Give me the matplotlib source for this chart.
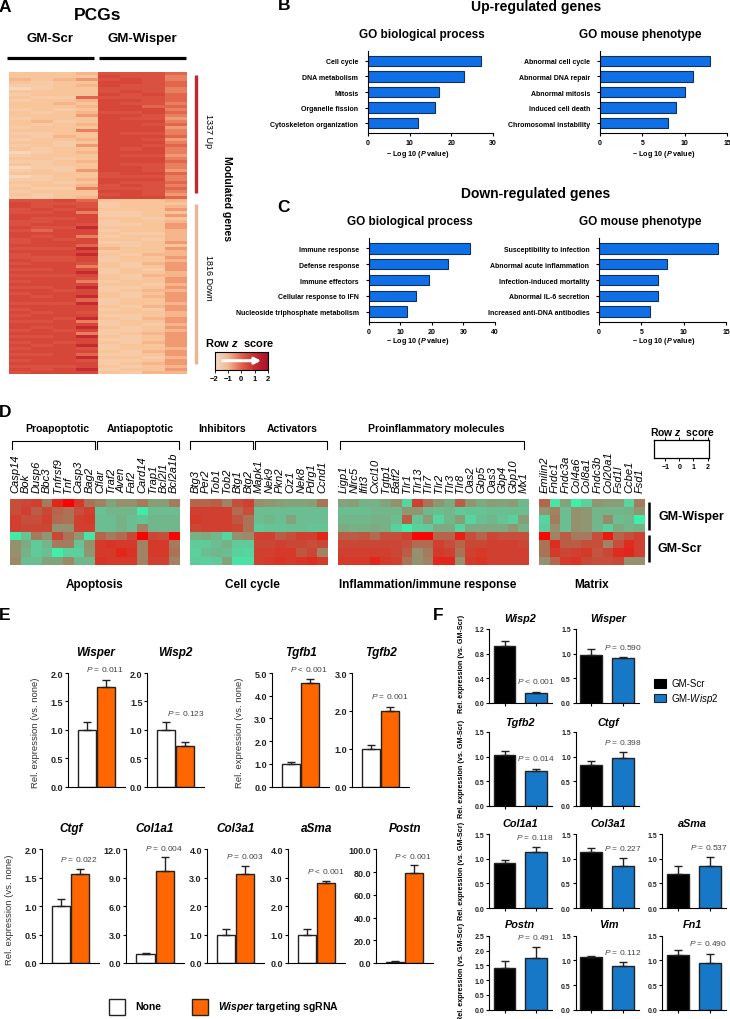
import numpy as np
import matplotlib
matplotlib.use("Agg")
import matplotlib.pyplot as plt
from matplotlib.colors import LinearSegmentedColormap
from matplotlib.patches import Rectangle

plt.rcParams['font.family'] = ['Liberation Sans', 'DejaVu Sans']
plt.rcParams['mathtext.fontset'] = 'custom'
plt.rcParams['mathtext.rm'] = 'Liberation Sans'
plt.rcParams['mathtext.it'] = 'Liberation Sans:italic'
plt.rcParams['mathtext.bf'] = 'Liberation Sans:bold'
plt.rcParams['mathtext.bfit'] = 'Liberation Sans:italic:bold'
plt.rcParams['mathtext.default'] = 'regular'

W, H = 730, 1020

# --- panel A, one string per row, digit 0 (pale) to 9 (dark) ---
pcg_rows = [
    "2223 7776", "2222 8775", "3234 7875", "2122 8876", "1123 8776", "0122 7775",
    "2222 7875", "1222 8786", "2116 7776", "1223 8876", "2232 8775", "2223 8866",
    "1212 8885", "2123 7786", "2224 8875", "1222 8774", "2312 8885", "2123 8876",
    "1222 8884", "2225 8885", "1122 8775", "2132 8886", "1223 8874", "2212 8885",
    "1214 8876", "2122 8785", "0123 8885", "1222 8774", "2212 8885", "1123 8886",
    "2122 8775", "0112 8875", "1214 8874", "2222 7886", "0122 7775", "1123 8885",
    "2212 8776", "1223 7875", "2115 7776", "1222 8875", "2122 7874", "1123 8886",
    "7786 2223", "8777 1222", "8787 1223", "7878 2224", "7785 1122", "8888 1124",
    "8778 2212", "7788 1223", "7887 1124", "8779 2224", "7688 1223", "8888 2113",
    "8785 1223", "7878 2213", "7888 1124", "8886 2122", "7779 3224", "8888 1223",
    "7889 2133", "7778 1224", "8778 1223", "7887 2134", "8885 2124", "7788 1214",
    "8889 1223", "7778 2133", "8887 2124", "7885 1224", "8888 2213", "7789 1124",
    "8878 1233", "7888 2124", "8789 2134", "8886 1224", "7779 1223", "8888 2134",
    "7888 1214", "8787 2223", "7888 1123", "8879 2134", "7785 1224", "8888 1213",
    "8789 2124", "7878 1123", "8885 1234", "7789 2124", "8888 1124", "7878 2134",
    "8789 1224", "7887 1223", "8888 2134", "7786 1124", "8889 2213", "7887 1124",
    "8888 1234", "7778 2123", "8789 1224", "7888 2133",
]

# --- panels B, C ---
up_bp_terms = ["Cell cycle", "DNA metabolism", "Mitosis", "Organelle fission", "Cytoskeleton organization"]
up_bp_vals = [27, 23, 17, 16, 12]
up_mp_terms = ["Abnormal cell cycle", "Abnormal DNA repair", "Abnormal mitosis", "Induced cell death", "Chromosomal instability"]
up_mp_vals = [13, 11, 10, 9, 8]
down_bp_terms = ["Immune response", "Defense response", "Immune effectors", "Cellular response to IFN", "Nucleoside triphosphate metabolism"]
down_bp_vals = [32, 25, 19, 15, 12]
down_mp_terms = ["Susceptibility to infection", "Abnormal acute inflammation", "Infection-induced mortality", "Abnormal IL-6 secretion", "Increased anti-DNA antibodies"]
down_mp_vals = [14, 8, 7, 7, 6]

# --- panel D ---
apoptosis_genes = ["Casp14", "Bok", "Dusp6", "Bbc3", "Tnfrsf9", "Tnf", "Casp3", "Bag2",
                   "Cflar", "Traf2", "Aven", "Faf2", "Card14", "Trap1", "Bcl2l1", "Bcl2a1b"]
apoptosis_z = [
    [.8, .9, 1.0, .2, 1.4, 2, 1.1, .3, .1, -.4, -.1, -.1, .2, -.3, -.3, .2],
    [.8, 1.0, .6, .9, .5, .3, .8, 1.0, -.9, -.7, -.7, -.7, -1.6, -.8, -.8, -.8],
    [1.0, .8, .8, 1.0, .4, .3, 1, 1.1, -.8, -.8, -.6, -.8, -.9, -.7, -.7, -.7],
    [1, .9, .9, .9, -.1, -.1, 1, 1, -.8, -.8, -.6, -.8, .1, -.7, -.7, -.7],
    [-1.6, -.9, .2, -.2, .9, .3, -.2, -1.5, .5, .2, .4, .9, 2, .9, .8, 1.9],
    [-.1, -.5, -1, -.7, .2, .2, -.9, -.1, 1.1, 1.2, 1.1, 1.1, .1, 1.1, 1.1, .2],
    [-.1, -.6, -1, -.8, -1.7, -1.1, -1.1, -.2, 1.1, 1.1, 1.4, 1.2, .1, 1.1, 1.1, .3],
    [0, -.8, -.8, -.4, -.4, 0, -.7, -.7, 1.2, 1.1, 1.1, 1.1, .1, 1, 1, .1],
]
cycle_genes = ["Btg3", "Per2", "Tob1", "Tob2", "Btg1", "Btg2", "Mapk1", "Nek9", "Pkn2", "Ciz1", "Nek8", "Pdrg1", "Ccnd1"]
cycle_z = [
    [.5, .5, .6, .1, .8, 1, -.1, -.2, -.3, -.4, -.4, -.3, .3],
    [1, 1, 1, 1, .4, .8, -.8, -.8, -.8, -.8, -.8, -.8, -.8],
    [1.1, 1, 1, 1, .7, .3, -.8, -.7, -.8, -.4, -.8, -.8, -.8],
    [.9, 1, 1, 1, .9, .3, -1, -.9, -.9, -.8, -.8, -.9, -.9],
    [-.6, -.5, -.7, -1.2, -.1, 0, 1, 1, .6, .8, 1, 1, 1.4],
    [-1, -1, -.8, -.6, -1, -1, .9, .9, 1, .9, .9, .8, .9],
    [-1.1, -.8, -.7, -.8, -1.1, -1.2, 1, 1, 1.1, 1.1, .7, .9, .1],
    [-1, -1.1, -1, -.4, -1.5, -1.4, 1, 1.1, 1.2, 1.1, 1.2, 1.3, 1.1],
]
inflam_genes = ["Ligp1", "Nlrc5", "Ifit3", "Cxcl10", "Tgtp1", "Batf2", "Tlr1", "Tlr13", "Tlr7",
                "Tlr2", "Tlr3", "Tlr8", "Oas2", "Gbp5", "Oas3", "Gbp4", "Gbp10", "Mx1"]
inflam_z = [
    [-.4, -.3, -.6, -.6, -.4, -.1, -1.2, 1, .3, -.2, -.5, .6, -.2, -.5, -.3, -.4, -.3, -.7],
    [-.8, -.8, -.8, -.7, -.7, -.7, -.2, -.2, -.7, -.8, -.7, -1, -.9, -.9, -.8, -.8, -.8, -.8],
    [-.7, -.7, -.7, -.6, -.6, -.8, .6, -.9, -.3, -1.2, -.7, -.3, -1.2, -.8, -.7, -.9, -1.1, -.3],
    [-.5, -.6, -.6, -.5, -.6, -1.1, -1.7, -1.1, -1, -.5, -.5, -1.2, -.5, -.5, -.5, -.5, -.2, -.6],
    [.6, .6, .7, .4, .8, .8, 1, 1.9, 1.9, .5, .5, 1.5, .8, .5, .9, .8, .8, .8],
    [.9, .9, .9, .9, .9, .9, .8, .4, .4, 1, .8, .5, .9, .9, 1, 1, 1, .9],
    [1, 1, 1, 1, 1, .9, .6, -.1, .2, 1.1, 1, .3, 1, 1.1, 1, 1, 1, 1],
    [1.1, 1.1, 1.1, 1.4, 1.1, 1, .3, -.1, .1, 1.4, 1.4, -.1, 1.1, 1.2, 1, 1, 1, 1],
]
matrix_genes = ["Emilin2", "Fndc1", "Fndc3a", "Col4a6", "Col8a1", "Fndc3b", "Col20a1", "Fsd1l", "Ccbe1", "Fsd1"]
matrix_z = [
    [.5, -1.5, -.4, -1.7, -1.1, -.2, -.3, -.3, -1.2, .2],
    [-.2, .1, -.8, -.1, -.2, -.7, -.7, -.7, -.6, -.2],
    [-1.2, .2, -.8, -.1, -.2, -.7, 0, -.8, -.7, -1.7],
    [-1, -.1, -.8, -.1, -.2, -.7, -1.1, -.5, -.7, -.6],
    [1.9, .1, .6, .2, .2, .8, 1.6, .5, .8, 1],
    [.3, 1.3, .6, .6, .8, .8, .1, .8, 1.3, 1],
    [.3, 1.1, .9, 1, 1.1, .7, .9, 1.3, 1.4, 1],
    [-.1, .5, 1.1, 1.2, .9, .8, .8, .9, -.1, -.1],
]

# --- panel E ---
e_genes = ["Wisper", "Wisp2", "Tgfb1", "Tgfb2", "Ctgf", "Col1a1", "Col3a1", "aSma", "Postn"]
e_none = [1, 1, 1, 1, 1, 1, 1, 1, 1]
e_none_err = [.13, .13, .1, .1, .13, .05, .19, .18, .5]
e_sg = [1.76, .71, 4.58, 2.0, 1.56, 9.7, 3.12, 2.8, 79]
e_sg_err = [.12, .07, .15, .1, .1, 1.5, .28, .08, 7]
e_ticks = [[0, .5, 1, 1.5, 2], [0, .5, 1, 1.5, 2], [0, 1, 2, 3, 4, 5], [0, 1, 2, 3], [0, .5, 1, 1.5, 2],
           [0, 3, 6, 9, 12], [0, 1, 2, 3, 4], [0, 1, 2, 3, 4], [0, 20, 40, 60, 80, 100]]
e_p = ["= 0.011", "= 0.123", "< 0.001", "= 0.001", "= 0.022", "= 0.004", "= 0.003", "< 0.001", "< 0.001"]

# --- panel F ---
f_genes = ["Wisp2", "Wisper", "Tgfb2", "Ctgf", "Col1a1", "Col3a1", "aSma", "Postn", "Vim", "Fn1"]
f_scr = [.92, .98, 1.04, .83, .92, 1.13, .68, 1.42, 1.06, 1.11]
f_scr_err = [.08, .12, .07, .09, .05, .08, .17, .21, .03, .1]
f_wisp = [.16, .91, .71, .97, 1.14, .85, .85, 1.75, .88, .95]
f_wisp_err = [.015, .02, .05, .12, .09, .17, .19, .37, .08, .18]
f_ticks = [[0, .4, .8, 1.2], [0, .5, 1, 1.5], [0, .5, 1, 1.5], [0, .5, 1, 1.5], [0, .5, 1, 1.5],
           [0, .5, 1, 1.5], [0, .5, 1, 1.5], [0, .5, 1, 1.5, 2, 2.5], [0, .5, 1, 1.5], [0, .5, 1, 1.5]]
f_p = ["< 0.001", "= 0.590", "= 0.014", "= 0.398", "= 0.118", "= 0.227", "= 0.537", "= 0.491", "= 0.112", "= 0.490"]

# pixel layouts
e_boxes = [(67.7, 125, 674, 787.7), (147.3, 204.3, 674, 787.7), (271.7, 329, 674, 787.7), (352.3, 409.3, 674, 787.7),
           (41.7, 99, 850.3, 964), (126.3, 184, 850.3, 964), (206.7, 264, 850.3, 964), (287.7, 345, 850.3, 964),
           (375.7, 433.3, 850.3, 964)]
e_title_pos = [(96, 653), (175, 653), (301, 653), (381, 653), (71, 829), (155, 829), (236, 829), (317, 829), (405.5, 829)]
e_p_pos = [(105, 670), (186, 714), (309, 670), (390, 697), (79, 860), (164, 849), (245, 857), (325.7, 872), (413, 856.7)]
f_boxes = [(489, 551.7, 630, 704), (575.7, 639, 630, 704), (489, 551.7, 733, 807), (575.7, 639, 733, 807),
           (489, 551.7, 835, 909), (575.7, 639, 835, 909), (662.3, 725.7, 835, 909),
           (489, 551.7, 936.7, 1010.7), (575.7, 639, 936.7, 1010.7), (662.3, 725.7, 936.7, 1010.7)]
f_title_pos = [(520, 619), (608.7, 619), (520, 722.7), (608.7, 722.7), (520, 823.7), (608.7, 823.7), (692.3, 823.7),
               (520, 925.3), (608.7, 925.3), (692.7, 925.3)]
f_p_pos = [(535.7, 682), (622.7, 647.3), (536, 758.3), (623, 742.7), (535, 837.7), (623, 848.7), (709.3, 847.3),
           (536.3, 937.7), (622.7, 953), (708.3, 943.7)]

fig = plt.figure(figsize=(W / 100, H / 100), dpi=100)


def px_axes(x0, x1, y0, y1):
    return fig.add_axes([x0 / W, 1 - y1 / H, (x1 - x0) / W, (y1 - y0) / H])


over = fig.add_axes([0, 0, 1, 1], zorder=10)
over.set_xlim(0, W)
over.set_ylim(H, 0)
over.axis('off')


def txt(x, y, s, size=8, weight='bold', **kw):
    kw.setdefault('ha', 'center')
    kw.setdefault('va', 'center')
    over.text(x, y, s, fontsize=size, fontweight=weight, **kw)


# panel letters
for letter, x, y in [("A", 5, 7), ("B", 284, 6), ("C", 284, 207), ("D", 5, 413), ("E", 5, 616), ("F", 438, 616)]:
    txt(x, y, letter, size=12.5)

# Panel A
pcg_cmap = LinearSegmentedColormap.from_list("pcg", [
    "#f9d6b8", "#f8cba8", "#f8c49a", "#f6b58a", "#f19a72",
    "#e9805f", "#e2654d", "#dc5240", "#d8483a", "#c42a2f"])
pcg = np.array([[int(c) for c in r.replace(" ", "")] for r in pcg_rows])
ax = px_axes(9.3, 186.7, 73, 375)
ax.imshow(pcg, cmap=pcg_cmap, vmin=0, vmax=9, aspect='auto', interpolation='nearest')
ax.axis('off')
txt(98, 16, "PCGs", size=12.5)
txt(50, 39, "GM-Scr", size=9.5)
txt(142.7, 39, "GM-Wisper", size=9.5)
over.plot([7, 94], [58.7, 58.7], color='k', lw=2.3, solid_capstyle='butt')
over.plot([99, 186], [58.7, 58.7], color='k', lw=2.3, solid_capstyle='butt')
over.plot([196, 196], [76, 194], color='#c1272d', lw=2.4, solid_capstyle='butt')
over.plot([196, 196], [205, 365], color='#f0b48c', lw=2.4, solid_capstyle='butt')
txt(208, 131, "1337 Up", size=6.5, weight='normal', rotation=270)
txt(208, 278, "1816 Down", size=6.5, weight='normal', rotation=270)
txt(226.7, 199, "Modulated genes", size=7.5, rotation=270)

cax = px_axes(214.5, 268, 353, 371)
cax.imshow(np.array([np.linspace(-2, 2, 100)]), cmap=LinearSegmentedColormap.from_list(
    "cb", ["#f3dcc8", "#f2b590", "#e2604a", "#c42a2f", "#a8102a"]), aspect='auto', extent=(-2, 2, 0, 1))
cax.set_xticks([-2, -1, 0, 1, 2])
cax.set_xticklabels(["−2", "−1", "0", "1", "2"], fontsize=5.5, fontweight='bold')
cax.set_yticks([])
cax.tick_params(length=2, width=.6, pad=1.5)
for s in cax.spines.values():
    s.set_linewidth(.8)
over.annotate("", xy=(264, 361.7), xytext=(220, 361.7),
              arrowprops=dict(arrowstyle='-|>', color='white', lw=2.2, mutation_scale=9))
txt(240, 343, r"Row $\mathbfit{z}$  score", size=8)


# Panels B, C
def go_bars(terms, vals, xmax, xstep, box, title, title_pos, label_pos):
    ax = px_axes(*box)
    ypos = np.arange(len(vals))
    ax.barh(ypos, vals, height=.67, color='#0f6fe6', edgecolor='#12305a', linewidth=.8)
    ax.set_ylim(len(vals) - 1 + .64, -.64)
    ax.set_xlim(0, xmax)
    ax.set_xticks(np.arange(0, xmax + 1, xstep))
    ax.set_yticks(ypos)
    ax.set_yticklabels(terms, fontsize=5, fontweight='bold')
    ax.tick_params(axis='x', labelsize=5, length=2, width=.8, pad=2)
    ax.tick_params(axis='y', length=2, width=.8, pad=5)
    for lab in ax.get_xticklabels():
        lab.set_fontweight('bold')
    ax.spines[['top', 'right']].set_visible(False)
    txt(title_pos[0], title_pos[1], title, size=8.5)
    txt(label_pos[0], label_pos[1], r"− Log 10 ($\mathbfit{P}$ value)", size=5.2)


txt(535.7, 7, "Up-regulated genes", size=10)
txt(535.7, 194, "Down-regulated genes", size=10)
go_bars(up_bp_terms, up_bp_vals, 30, 10, (368, 493, 52, 134), "GO biological process", (421.7, 35), (418, 154))
go_bars(up_mp_terms, up_mp_vals, 15, 5, (600, 727, 52, 134), "GO mouse phenotype", (640, 35), (664, 154))
go_bars(down_bp_terms, down_bp_vals, 40, 10, (368.7, 495, 239, 323), "GO biological process", (410, 222), (418, 342))
go_bars(down_mp_terms, down_mp_vals, 15, 5, (599, 726, 239, 323), "GO mouse phenotype", (640.7, 222), (664, 342))

# Panel D
d_cmap = LinearSegmentedColormap.from_list("d", ["#30ffb0", "#5fcb9b", "#9c8a68", "#d04030", "#ff0000"])
for genes, z, x0, x1 in [(apoptosis_genes, apoptosis_z, 10, 179.3), (cycle_genes, cycle_z, 190, 327.7),
                         (inflam_genes, inflam_z, 338.3, 529), (matrix_genes, matrix_z, 539.3, 645)]:
    ax = px_axes(x0, x1, 500, 565.7)
    ax.imshow(np.array(z), cmap=d_cmap, vmin=-2, vmax=2, aspect='auto', interpolation='nearest')
    ax.axis('off')
    step = (x1 - x0) / len(genes)
    for i, g in enumerate(genes):
        txt(x0 + step * (i + .5), 493.5, g, size=8, weight='normal', style='italic', rotation=90, va='bottom')

for a, b in [(12, 95), (97, 179), (190, 253), (255, 327), (340, 524)]:
    over.plot([a, a, b, b], [450, 442, 442, 450], color='k', lw=.8)
for x, s in [(57, "Proapoptotic"), (140.7, "Antiapoptotic"), (221.7, "Inhibitors"), (291.7, "Activators"),
             (436.7, "Proinflammatory molecules")]:
    txt(x, 429, s, size=7.5)
for x, s in [(95, "Apoptosis"), (252.7, "Cell cycle"), (427.3, "Inflammation/immune response"), (591.7, "Matrix")]:
    txt(x, 584.7, s, size=8.5)
over.plot([649, 649], [503, 531], color='k', lw=1.8, solid_capstyle='butt')
over.plot([649, 649], [536, 563], color='k', lw=1.8, solid_capstyle='butt')
txt(691.7, 517, "GM-Wisper", size=9)
txt(680, 549, "GM-Scr", size=9)
txt(682.7, 431.7, r"Row $\mathbfit{z}$  score", size=7.5)
zax = px_axes(654, 709, 441, 459)
zax.set_xlim(-1.8, 2.1)
zax.set_xticks([-1, 0, 1, 2])
zax.set_xticklabels(["−1", "0", "1", "2"], fontsize=5, fontweight='bold')
zax.set_yticks([])
zax.tick_params(length=2, width=.7, pad=1.5, top=True)
for s in zax.spines.values():
    s.set_linewidth(.9)


# Panels E, F
def bar_pair(box, a, a_err, b, b_err, ticks, colors, width, xlim, tick_size, show_xticks):
    ax = px_axes(*box)
    ax.bar([0, 1], [a, b], width=width, color=colors, edgecolor='#222222', linewidth=1)
    for x, v, e in [(0, a, a_err), (1, b, b_err)]:
        ax.errorbar(x, v, yerr=[[0], [e]], color='#222222', elinewidth=1, capsize=3.2, capthick=1)
    ax.set_xlim(*xlim)
    ax.set_ylim(0, ticks[-1])
    ax.set_yticks(ticks)
    ax.set_yticklabels([f"{t:.1f}" for t in ticks], fontsize=tick_size, fontweight='bold', color='#222222')
    ax.tick_params(axis='y', length=2.5, width=.8, pad=1)
    ax.spines[['top', 'right']].set_visible(False)
    ax.set_xticks([0, 1] if show_xticks else [])
    ax.set_xticklabels([])
    ax.tick_params(axis='x', length=2, width=.8)
    return ax


for i, g in enumerate(e_genes):
    bar_pair(e_boxes[i], e_none[i], e_none_err[i], e_sg[i], e_sg_err[i], e_ticks[i],
             ['white', '#ff6600'], .96, (-1, 2), 6.5, False)
    txt(*e_title_pos[i], g, size=8.5, style='italic')
    txt(*e_p_pos[i], r"$\mathit{P}$ " + e_p[i], size=6, weight='normal', color='#444444')
for x, y in [(36, 732.5), (239, 732.5), (10, 909.5)]:
    txt(x, y, "Rel. expression (vs. none)", size=6.8, weight='normal', rotation=90, color='#333333')
over.add_patch(Rectangle((109, 1000), 16, 16, fc='white', ec='#222222', lw=1))
over.add_patch(Rectangle((192, 1000), 16, 16, fc='#ff6600', ec='#222222', lw=1))
txt(135, 1007, "None", size=7.5, ha='left')
txt(218, 1007, r"$\mathbfit{Wisper}$ targeting sgRNA", size=7.5, ha='left')

for i, g in enumerate(f_genes):
    bar_pair(f_boxes[i], f_scr[i], f_scr_err[i], f_wisp[i], f_wisp_err[i], f_ticks[i],
             ['black', '#1878c8'], .684, (-.49, 1.49), 5, True)
    txt(*f_title_pos[i], g, size=7.8, style='italic')
    txt(*f_p_pos[i], r"$\mathit{P}$ " + f_p[i], size=6, weight='normal', color='#444444')
for y in [663.7, 768.7, 870.5, 971.7]:
    txt(461.7, y, "Rel. expression (vs. GM-Scr)", size=5.2, rotation=90)
over.add_patch(Rectangle((654, 680), 12, 8.5, fc='black', ec='black', lw=.8))
over.add_patch(Rectangle((654, 695), 12, 7.5, fc='#1878c8', ec='#222222', lw=.8))
txt(671, 684.5, "GM-Scr", size=7, weight='normal', ha='left')
txt(671, 699, r"GM-$\mathit{Wisp2}$", size=7, weight='normal', ha='left')

fig.savefig("out.png", dpi=100)
